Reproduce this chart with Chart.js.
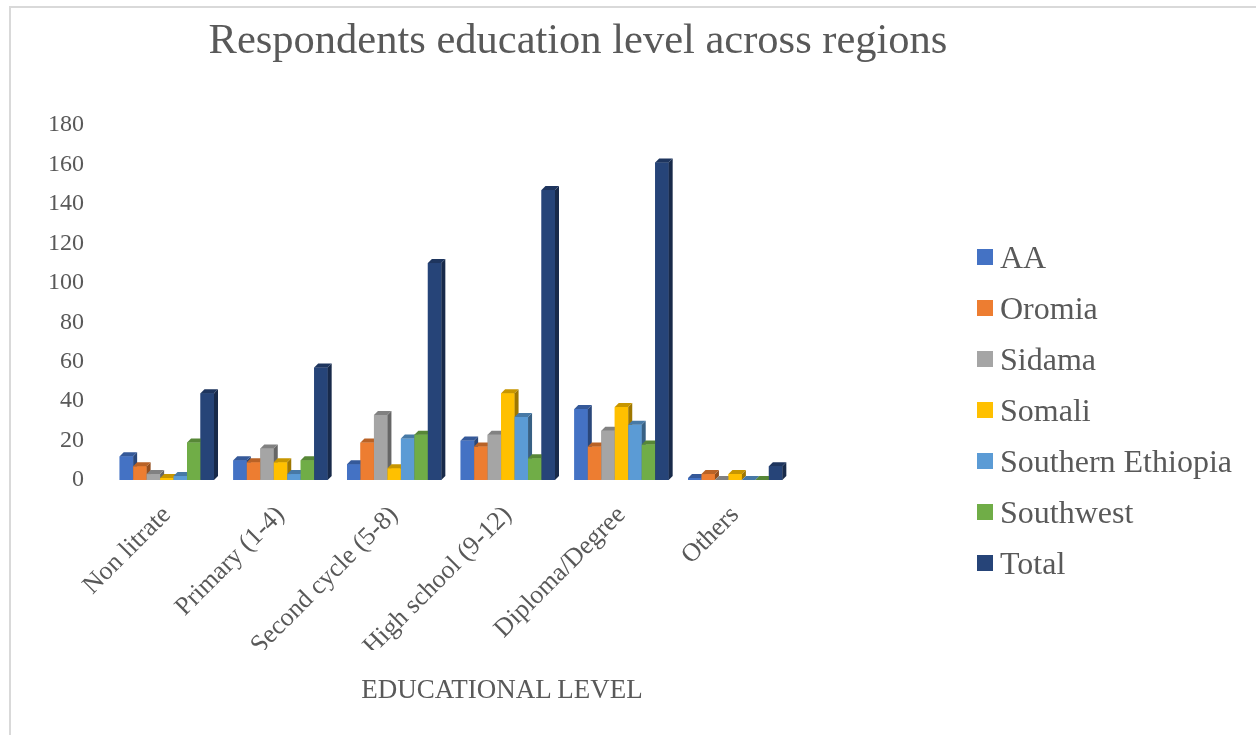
<!DOCTYPE html>
<html>
<head>
<meta charset="utf-8">
<script src="https://cdn.jsdelivr.net/npm/chart.js@4.4.1/dist/chart.umd.min.js"></script>
<style>
  html, body { margin: 0; padding: 0; background: #fff; overflow: hidden; }
  #wrap { position: relative; width: 1256px; height: 735px; overflow: hidden; font-family: "Liberation Serif", "Times New Roman", serif; color: #595959; }
  #frame { position: absolute; left: 9px; top: 6px; width: 1300px; height: 800px; border: 2px solid #d9d9d9; box-sizing: border-box; }
  #chart { position: absolute; left: 0; top: 0; }
  #title { position: absolute; left: 578px; top: 18px; transform: translateX(-50%); font-size: 42.5px; line-height: 1; white-space: nowrap; }
  #xTitle { position: absolute; left: 502px; top: 676px; transform: translateX(-50%); font-size: 27px; line-height: 1; white-space: nowrap; }
  #legend { position: absolute; left: 977px; top: 0; }
  .lg-item { position: absolute; left: 0; display: flex; align-items: center; height: 31px; font-size: 32px; line-height: 31px; white-space: nowrap; }
  .lg-box { width: 16px; height: 16px; margin-right: 7px; flex: none; }
</style>
</head>
<body>
<div id="wrap">
  <div id="frame"></div>
  <canvas id="chart" width="1256" height="735"></canvas>
  <div id="title">Respondents education level across regions</div>
  <div id="xTitle">EDUCATIONAL LEVEL</div>
  <div id="legend"></div>
</div>
<script>
// data
const categories = ["Non litrate", "Primary (1-4)", "Second cycle (5-8)", "High school (9-12)", "Diploma/Degree", "Others"];
const seriesNames = ["AA", "Oromia", "Sidama", "Somali", "Southern Ethiopia", "Southwest", "Total"];
const aa = [12, 10, 8, 20, 36, 1];
const oromia = [7, 9, 19, 17, 17, 3];
const sidama = [3, 16, 33, 23, 25, 0];
const somali = [1, 9, 6, 44, 37, 3];
const southernEthiopia = [2, 3, 21, 32, 28, 0];
const southwest = [19, 10, 23, 11, 18, 0];
const total = [44, 57, 110, 147, 161, 7];
const yTicks = [0, 20, 40, 60, 80, 100, 120, 140, 160, 180];

const seriesValues = [aa, oromia, sidama, somali, southernEthiopia, southwest, total];
const seriesColors = ["#4472C4", "#ED7D31", "#A5A5A5", "#FFC000", "#5B9BD5", "#70AD47", "#264478"];

function shade(hex, f) {
  const n = parseInt(hex.slice(1), 16);
  const r = Math.round(((n >> 16) & 255) * f);
  const g = Math.round(((n >> 8) & 255) * f);
  const b = Math.round((n & 255) * f);
  return `rgb(${r},${g},${b})`;
}

/* ---- legend (html) ---- */
const legend = document.getElementById("legend");
seriesNames.forEach((name, i) => {
  const item = document.createElement("div");
  item.className = "lg-item";
  item.style.top = (257 + i * 51 - 15.5) + "px";
  item.innerHTML = `<span class="lg-box" style="background:${seriesColors[i]}"></span><span>${name}</span>`;
  legend.appendChild(item);
});

/* ---- fake 3D faces on top of the bars ---- */
const bars3d = {
  id: "bars3d",
  afterDatasetsDraw(chart) {
    const ctx = chart.ctx;
    const dx = 4, dy = 4;
    ctx.save();
    chart.data.datasets.forEach((ds, i) => {
      const meta = chart.getDatasetMeta(i);
      const col = ds.backgroundColor;
      meta.data.forEach((bar) => {
        const p = bar.getProps(["x", "y", "base", "width"], true);
        const l = p.x - p.width / 2, r = p.x + p.width / 2;
        ctx.fillStyle = col;
        ctx.fillRect(l, p.y, p.width, p.base - p.y);
        // side
        ctx.fillStyle = shade(col, 0.62);
        ctx.beginPath();
        ctx.moveTo(r, p.y);
        ctx.lineTo(r + dx, p.y - dy);
        ctx.lineTo(r + dx, p.base - dy);
        ctx.lineTo(r, p.base);
        ctx.closePath();
        ctx.fill();
        // top
        ctx.fillStyle = shade(col, 0.78);
        ctx.beginPath();
        ctx.moveTo(l, p.y);
        ctx.lineTo(l + dx, p.y - dy);
        ctx.lineTo(r + dx, p.y - dy);
        ctx.lineTo(r, p.y);
        ctx.closePath();
        ctx.fill();
      });
    });
    ctx.restore();
  }
};

const ctx = document.getElementById("chart").getContext("2d");
new Chart(ctx, {
  type: "bar",
  data: {
    labels: categories,
    datasets: seriesNames.map((name, i) => ({
      label: name,
      data: seriesValues[i],
      backgroundColor: seriesColors[i],
      borderWidth: 0,
      barPercentage: 1,
      categoryPercentage: 0.83,
    })),
  },
  options: {
    responsive: false,
    animation: false,
    devicePixelRatio: 1,
    layout: { padding: { left: 49, right: 464, top: 125, bottom: 85 } },
    plugins: {
      legend: { display: false },
      title: { display: false },
      tooltip: { enabled: false },
    },
    scales: {
      x: {
        grid: { display: false, drawTicks: false },
        border: { display: false },
        ticks: {
          autoSkip: false,
          minRotation: 45,
          maxRotation: 45,
          padding: 20,
          color: "#595959",
          font: { family: "'Liberation Serif'", size: 26 },
        },
        afterFit: (scale) => { scale.height = 170; },
      },
      y: {
        min: 0,
        max: 180,
        afterBuildTicks: (scale) => { scale.ticks = yTicks.map((v) => ({ value: v })); },
        grid: { display: false, drawTicks: false },
        border: { display: false },
        ticks: {
          padding: 26,
          color: "#595959",
          font: { family: "'Liberation Serif'", size: 24 },
        },
        afterFit: (scale) => { scale.width = 61; },
      },
    },
  },
  plugins: [bars3d],
});
</script>
</body>
</html>
